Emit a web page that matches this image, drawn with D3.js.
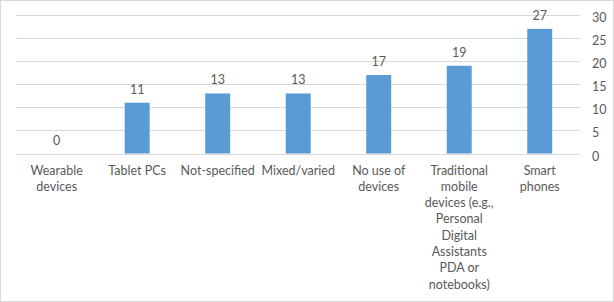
<!DOCTYPE html>
<html>
<head>
<meta charset="utf-8">
<script src="https://cdn.jsdelivr.net/npm/d3@7"></script>
<style>
  html, body { margin: 0; padding: 0; background: #fff; }
  svg text { font-family: Lato, "Open Sans", sans-serif; fill: #595959; }
</style>
</head>
<body>
<div id="chart"></div>
<script>
/**
 * Basic Settings
 */
const canvasWidth = 614;
const canvasHeight = 302;

// data
const categories = [
  "Wearable\ndevices",
  "Tablet PCs",
  "Not-specified",
  "Mixed/varied",
  "No use of\ndevices",
  "Traditional\nmobile\ndevices (e.g.,\nPersonal\nDigital\nAssistants\nPDA or\nnotebooks)",
  "Smart\nphones"
];
const values = [0, 11, 13, 13, 17, 19, 27];
const yTicks = [0, 5, 10, 15, 20, 25, 30];

const svg = d3.select("#chart")
  .append("svg")
  .attr("width", canvasWidth)
  .attr("height", canvasHeight)
  .style("display", "block");

// outer border
svg.append("rect")
  .attr("x", 0.5).attr("y", 0.5)
  .attr("width", canvasWidth - 1).attr("height", canvasHeight - 1)
  .attr("fill", "#fff")
  .attr("stroke", "#d9d9d9");

const xScale = d3.scaleBand()
  .domain(categories)
  .range([16.4, 580])
  .paddingInner(0.69)
  .paddingOuter(0.345);

const yScale = d3.scaleLinear()
  .domain([0, 30])
  .range([153.5, 15]);

// gridlines
svg.append("g")
  .selectAll("line")
  .data(yTicks)
  .join("line")
  .attr("x1", 16.4)
  .attr("x2", 580)
  .attr("y1", d => Math.round(yScale(d)) + 0.5)
  .attr("y2", d => Math.round(yScale(d)) + 0.5)
  .attr("stroke", "#d9d9d9")
  .attr("stroke-width", 1);

// right axis labels (sit a little below the gridline, like the original)
const yAxis = svg.append("g")
  .attr("transform", "translate(580,2.5)")
  .call(d3.axisRight(yScale).tickValues(yTicks).tickSize(0).tickPadding(12));
yAxis.select(".domain").remove();
yAxis.selectAll("text")
  .attr("font-size", "12.5px")
  .attr("font-family", null)
  .attr("fill", null);

// bars
svg.append("g")
  .selectAll("rect")
  .data(values)
  .join("rect")
  .attr("x", (d, i) => xScale(categories[i]))
  .attr("y", d => yScale(d))
  .attr("width", xScale.bandwidth())
  .attr("height", d => yScale(0) - yScale(d))
  .attr("fill", "#5b9bd5");

// value labels
svg.append("g")
  .selectAll("text")
  .data(values)
  .join("text")
  .attr("x", (d, i) => xScale(categories[i]) + xScale.bandwidth() / 2)
  .attr("y", d => yScale(d) - 9)
  .attr("text-anchor", "middle")
  .attr("font-size", "12.5px")
  .text(d => d);

// category labels, wrapped
const labels = svg.append("g")
  .selectAll("text")
  .data(categories)
  .join("text")
  .attr("text-anchor", "middle")
  .attr("font-size", "12.5px")
  .attr("transform", d => "translate(" + (xScale(d) + xScale.bandwidth() / 2) + ",174.5)");

labels.selectAll("tspan")
  .data(d => d.split("\n"))
  .join("tspan")
  .attr("x", 0)
  .attr("y", (d, i) => i * 16.3)
  .text(d => d);
</script>
</body>
</html>
